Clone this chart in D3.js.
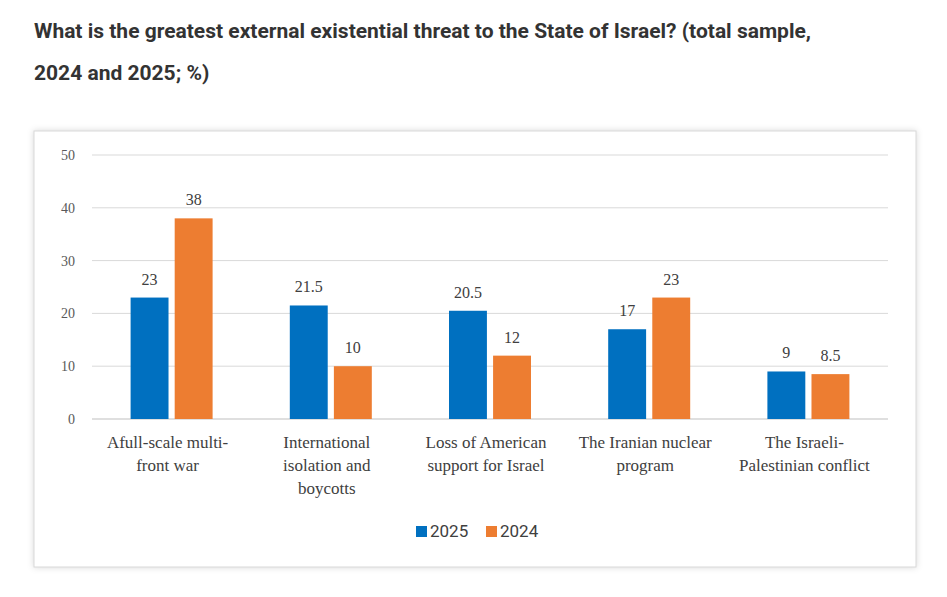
<!DOCTYPE html>
<html><head><meta charset="utf-8">
<script src="https://cdn.jsdelivr.net/npm/d3@7"></script>
<style>
body{margin:0;background:#fff;font-family:Roboto,"Open Sans",sans-serif;}
h1{position:absolute;left:34px;top:10px;width:810px;margin:0;font-size:21px;line-height:42px;font-weight:700;color:#333;}
</style></head><body>
<h1>What is the greatest external existential threat to the State of Israel? (total sample, 2024 and 2025; %)</h1>
<div class="chart" style="position:absolute;left:0;top:0"></div>
<script>
const categories = [["Afull-scale multi-","front war"],["International","isolation and","boycotts"],["Loss of American","support for Israel"],["The Iranian nuclear","program"],["The Israeli-","Palestinian conflict"]];
const series = ["2025","2024"];
const values2025 = [23,21.5,20.5,17,9];
const values2024 = [38,10,12,23,8.5];
const yTicks = [0,10,20,30,40,50];
const colors = ["#0070C0","#ED7D31"];

const svg = d3.select('.chart').append('svg').attr("width",947).attr("height",597);
svg.append("rect").attr("x",34).attr("y",131).attr("width",882).attr("height",436)
  .attr("fill","#fff").attr("stroke","#d9d9d9").attr("stroke-width",1)
  .style("filter","drop-shadow(0 0 3px rgba(0,0,0,0.15))");

const x = d3.scaleBand().domain(d3.range(categories.length)).range([92,888]);
const y = d3.scaleLinear().domain([0,50]).range([419,155]);
const inner = d3.scaleBand().domain(series).range([0,82]).paddingInner(0.14);

svg.selectAll(".grid").data(yTicks).enter().append("line")
  .attr("x1",92).attr("x2",888).attr("y1",d=>y(d)).attr("y2",d=>y(d))
  .attr("stroke",d=>d===0?"#bfbfbf":"#d9d9d9");
svg.selectAll(".ytl").data(yTicks).enter().append("text")
  .attr("x",75).attr("y",d=>y(d)+5).attr("text-anchor","end")
  .attr("font-family","Liberation Serif").attr("font-size",14).attr("fill","#595959").text(d=>d);

const data = [values2025, values2024];
data.forEach((vals,si)=>{
  const g = svg.append("g");
  vals.forEach((v,i)=>{
    const bx = x(i)+x.bandwidth()/2-41+inner(series[si]);
    g.append("rect").attr("x",bx).attr("y",y(v)).attr("width",inner.bandwidth())
      .attr("height",y(0)-y(v)).attr("fill",colors[si]);
    g.append("text").attr("x",bx+inner.bandwidth()/2).attr("y",y(v)-13)
      .attr("text-anchor","middle").attr("font-family","Liberation Serif")
      .attr("font-size",16).attr("fill","#404040").text(v);
  });
});

categories.forEach((lines,i)=>{
  const t = svg.append("text").attr("text-anchor","middle")
    .attr("font-family","Liberation Serif").attr("font-size",17).attr("fill","#404040");
  lines.forEach((l,j)=>t.append("tspan").attr("x",x(i)+x.bandwidth()/2-4).attr("y",448+j*23).text(l));
});

const lg = svg.append("g").attr("transform","translate(416,531)");
series.forEach((s,i)=>{
  lg.append("rect").attr("x",i*70).attr("y",-5).attr("width",11).attr("height",11).attr("fill",colors[i]);
  lg.append("text").attr("x",i*70+14).attr("y",6).attr("font-size",17).attr("fill","#404040").text(s);
});
</script></body></html>
